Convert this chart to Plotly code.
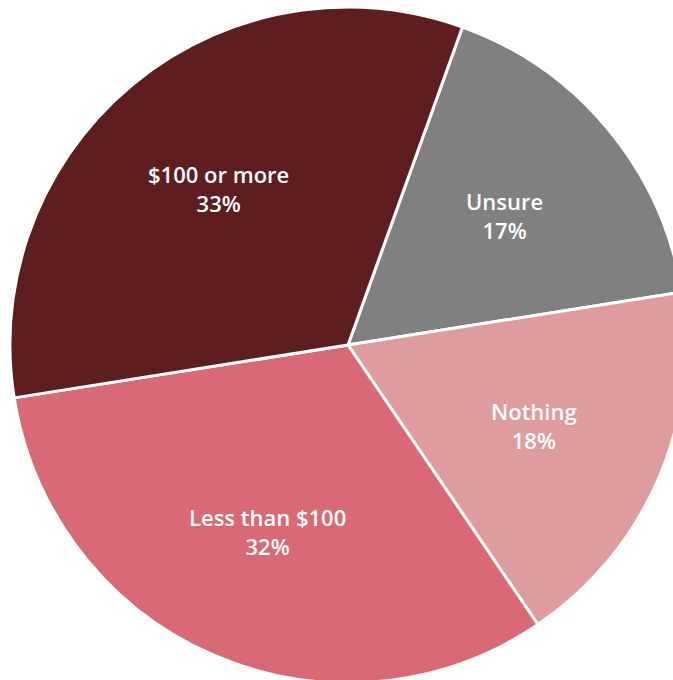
import math
import plotly.graph_objects as go

# Survey responses, clockwise from the top
labels = ["Unsure", "Nothing", "Less than $100", "$100 or more"]
shares = [17, 18, 32, 33]
colors = ["#808080", "#DE9C9F", "#D96A75", "#5E1E20"]

W, H = 700, 700
cx, cy, r = 348, 345, 338  # centre and radius in px from top-left
start_deg = 19.8           # first slice starts this far clockwise from 12 o'clock
label_radius = 0.6         # labels sit at this fraction of the radius

fig = go.Figure(
    go.Pie(
        labels=labels,
        values=shares,
        sort=False,
        direction="clockwise",
        rotation=start_deg,
        marker=dict(colors=colors, line=dict(color="white", width=3)),
        textinfo="none",
        hoverinfo="label+percent",
        domain=dict(
            x=[(cx - r) / W, (cx + r) / W],
            y=[(H - cy - r) / H, (H - cy + r) / H],
        ),
    )
)

# Slice labels placed along each slice's mid-angle
total = sum(shares)
cum = 0
for lab, v in zip(labels, shares):
    mid = math.radians(start_deg + 360 * (cum + v / 2) / total)
    cum += v
    px = cx + label_radius * r * math.sin(mid)
    py = cy - label_radius * r * math.cos(mid)
    fig.add_annotation(
        x=px / W, y=(H - py) / H, xref="paper", yref="paper",
        text=f"{lab}<br>{v}%", showarrow=False,
        font=dict(family="Open Sans", size=22, color="white", weight=600),
        xanchor="center", yanchor="middle",
    )

fig.update_layout(
    width=W,
    height=H,
    margin=dict(l=0, r=0, t=0, b=0),
    showlegend=False,
    paper_bgcolor="white",
)

fig.write_html(
    "out.html",
    post_script="document.documentElement.style.overflow='hidden';document.body.style.overflow='hidden';document.body.style.margin='0';",
)
